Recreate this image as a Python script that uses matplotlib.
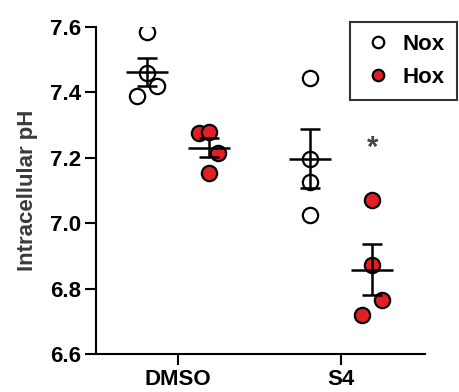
import matplotlib
matplotlib.use('Agg')
import matplotlib.pyplot as plt
import numpy as np

plt.rcParams['font.family'] = ['Liberation Sans', 'DejaVu Sans']

groups = ['DMSO', 'S4']
nox = [[7.585, 7.46, 7.42, 7.39], [7.443, 7.197, 7.126, 7.025]]
hox = [[7.277, 7.28, 7.215, 7.154], [7.071, 6.871, 6.766, 6.72]]
nox_jit = [[0, 0, 0.06, -0.06], [0, 0, 0, 0]]
hox_jit = [[-0.06, 0, 0.055, 0], [0, 0, 0.06, -0.06]]
star_y = 7.23

red = '#e31e24'
off = 0.19

fig = plt.figure(figsize=(4.6, 3.92), dpi=100)
ax = fig.add_axes([0.2087, 0.0969, 0.924 - 0.2087, 0.931 - 0.0969])

for i, g in enumerate(groups):
    for vals, jit, dx, fc, lab in [(nox[i], nox_jit[i], -off, 'white', 'Nox'),
                                   (hox[i], hox_jit[i], off, red, 'Hox')]:
        xs = i + dx + np.array(jit)
        ax.plot(xs, vals, 'o', ms=11, mfc=fc, mec='black', mew=1.6,
                ls='none', zorder=2, label=lab if i == 0 else None)
        m = np.mean(vals)
        sem = np.std(vals, ddof=1) / np.sqrt(len(vals))
        ax.hlines(m, i + dx - 0.13, i + dx + 0.13, color='black', lw=1.8, zorder=3)
        ax.errorbar(i + dx, m, yerr=sem, color='black', lw=1.8, capsize=7,
                    capthick=1.8, zorder=3)

ax.text(1 + off, star_y, '*', ha='center', va='center', fontsize=21,
        fontweight='bold', color='#444444')

ax.set_xlim(-0.503, 1.515)
ax.set_ylim(6.6, 7.6)
ax.set_yticks([6.6, 6.8, 7.0, 7.2, 7.4, 7.6])
ax.set_yticklabels(['6.6', '6.8', '7.0', '7.2', '7.4', '7.6'], fontsize=16, fontweight='bold')
ax.set_xticks([0, 1])
ax.set_xticklabels(groups, fontsize=16, fontweight='bold')
ax.set_ylabel('Intracellular pH', fontsize=16, fontweight='bold', color='#3a3a3a', labelpad=8)
ax.spines['top'].set_visible(False)
ax.spines['right'].set_visible(False)
for s in ['left', 'bottom']:
    ax.spines[s].set_linewidth(1.5)
ax.tick_params(width=1.5, length=8, pad=3)

leg = ax.legend(loc='upper right', bbox_to_anchor=(0.993, 0.945),
                bbox_transform=fig.transFigure, fancybox=False, frameon=True,
                markerscale=0.75, handlelength=1.4, handletextpad=0.4,
                borderpad=0.55, borderaxespad=0, labelspacing=0.55,
                prop={'weight': 'bold', 'size': 16})
leg.get_frame().set_edgecolor('black')
leg.get_frame().set_linewidth(1.5)

fig.savefig('out.png', dpi=100)
